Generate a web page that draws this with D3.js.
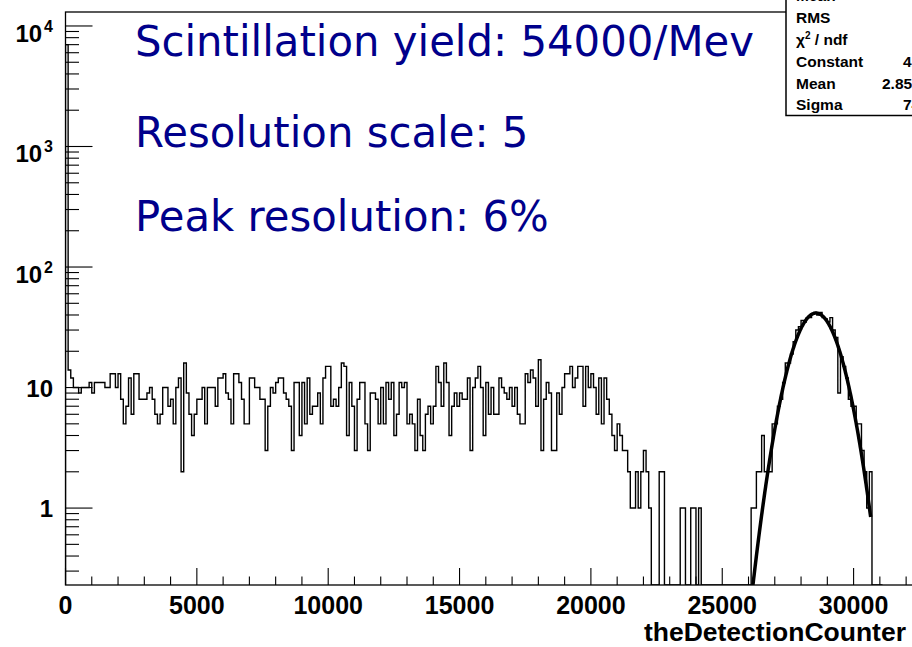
<!DOCTYPE html>
<html><head><meta charset="utf-8">
<script src="https://cdn.jsdelivr.net/npm/d3@7"></script>
<style>
html,body{margin:0;padding:0;background:#fff;}
svg{display:block;}
</style></head>
<body>
<script>
// ---------------- data ----------------
const binWidth = 100; // counts per bin of theDetectionCounter, starting at 0
const counts = [
 7000,
 14,12,10,10,9,10,10,10,11,9,
 11,11,11,11,10,10,13,13,10,13,
 8,5,7,12,6,13,13,8,8,8,
 9,10,8,6,5,6,10,10,7,8,
 5,10,12,2,16,9,6,4,6,8,
 8,10,5,10,10,10,7,12,12,13,
 9,8,5,13,13,11,8,5,5,12,
 12,10,10,8,8,3,7,10,9,11,
 12,12,9,8,7,3,11,11,4,11,
 5,12,6,7,7,9,5,12,15,15,
 7,8,7,10,16,15,4,11,7,3,
 8,11,11,5,3,9,9,8,5,10,
 5,11,8,11,4,6,11,10,11,5,
 6,5,3,8,4,3,6,7,5,7,
 15,11,7,16,11,4,7,9,7,9,
 8,8,12,3,10,12,15,10,4,11,
 6,10,6,6,12,10,9,8,10,7,
 10,6,5,5,13,11,14,12,7,17,
 3,8,11,9,3,3,9,6,10,13,
 13,15,10,12,15,15,7,15,10,13,
 10,6,12,5,12,8,6,4,3,5,
 4,3,3,2,1,1,2,1,2,3,
 2,1,0,0,0,2,2,0,0,0,
 0,0,0,1,1,0,0,1,1,0,
 1,0,0,0,0,0,0,0,0,0,
 0,0,0,0,0,0,0,0,0,0,
 1,1,2,2,4,2,2,2,5,5,
 7,8,11,16,16,19,24,30,32,36,
 35,38,38,41,42,40,42,38,37,35,
 38,30,26,9,18,15,12,8,7,7,
 5,5,3,2,1,2,0,0,0,0
];
// gaussian fit parameters (stats box)
const fitConstant = 41.5;
const fitMean = 28570;
const fitSigma = 745;
const fitRange = [25800, 30650];

const xTickMajor = [0,5000,10000,15000,20000,25000,30000];
const xTickLabels = ["0","5000","10000","15000","20000","25000","30000"];
const yTickMajor = [1,10,100,1000,10000];
const yTickLabels = [["1",""],["10",""],["10","2"],["10","3"],["10","4"]];

const textLines = ["Scintillation yield: 54000/Mev","Resolution scale: 5","Peak resolution: 6%"];
const statNames = ["Mean","RMS","χ2 / ndf","Constant","Mean","Sigma"];
const statValues = ["","","","41.54 ± 0.93","2.857e+04 ± 1.1e+01","745.3 ± 8.2"];

// ---------------- layout ----------------
const W = 912, H = 647;
const L = 65.5, R = 965.5, T = 12, B = 585;
const x = d3.scaleLinear().domain([0, 34260]).range([L, R]);
const y = d3.scaleLog().domain([0.23, 13060]).range([B, T]);

const svg = d3.select("body").append("svg").attr("width", W).attr("height", H);
svg.append("defs").append("clipPath").attr("id","frameclip")
  .append("rect").attr("x",L).attr("y",T).attr("width",R-L).attr("height",B-T);

const g = svg.append("g");

// histogram step path
const yc = c => c > 0 ? y(c) : B;
let pts = [[x(0), B]];
counts.forEach((c,i) => {
  pts.push([x(i*binWidth), yc(c)]);
  pts.push([x((i+1)*binWidth), yc(c)]);
});
pts.push([x(counts.length*binWidth), B]);
g.append("path").attr("clip-path","url(#frameclip)")
  .attr("d", d3.line()(pts))
  .attr("fill","none").attr("stroke","#000").attr("stroke-width",1.4);

// fit curve
const fitPts = d3.range(fitRange[0], fitRange[1]+1, 10).map(v =>
  [x(v), y(Math.max(1e-3, fitConstant*Math.exp(-0.5*Math.pow((v-fitMean)/fitSigma,2))))]);
g.append("path").attr("clip-path","url(#frameclip)")
  .attr("d", d3.line()(fitPts))
  .attr("fill","none").attr("stroke","#000").attr("stroke-width",3.5);

// frame
g.append("rect").attr("x",L).attr("y",T).attr("width",R-L).attr("height",B-T)
  .attr("fill","none").attr("stroke","#000").attr("stroke-width",1.3);

// x ticks
const xMinor = d3.range(0, 34001, 1000);
xMinor.forEach(v => {
  const major = v % 5000 === 0;
  g.append("line").attr("x1",x(v)).attr("x2",x(v)).attr("y1",B).attr("y2",B-(major?17:8.5))
    .attr("stroke","#000").attr("stroke-width",1.1);
});
xTickMajor.forEach((v,i) => {
  g.append("text").attr("x",x(v)).attr("y",614).attr("text-anchor","middle")
    .attr("font-family","Liberation Sans, Arial, sans-serif").attr("font-weight","bold")
    .attr("font-size",25).text(xTickLabels[i]);
});
g.append("text").attr("x",906).attr("y",641).attr("text-anchor","end")
  .attr("font-family","Liberation Sans, Arial, sans-serif").attr("font-weight","bold")
  .attr("font-size",26.5).text("theDetectionCounter");

// y ticks
const yDom = y.domain();
for (let e = -1; e <= 4; e++) {
  for (let m = 1; m <= 9; m++) {
    const v = m*Math.pow(10,e);
    if (v < yDom[0] || v > yDom[1]) continue;
    g.append("line").attr("x1",L).attr("x2",L+(m===1?27:13.5)).attr("y1",y(v)).attr("y2",y(v))
      .attr("stroke","#000").attr("stroke-width",1.1);
  }
}
yTickMajor.forEach((v,i) => {
  const [base, sup] = yTickLabels[i];
  const t = g.append("text").attr("text-anchor","end")
    .attr("font-family","Liberation Sans, Arial, sans-serif").attr("font-weight","bold");
  if (!sup) {
    t.attr("x",53).attr("y",y(v)+9).attr("font-size",24).text(base);
  } else {
    t.attr("x",53).attr("y",y(v)+16).attr("font-size",24);
    t.append("tspan").text(base);
    t.append("tspan").attr("font-size",16).attr("dy",-10).attr("dx",2).text(sup);
  }
});

// big text
const baselines = [56, 147, 231];
textLines.forEach((s,i) => {
  svg.append("text").attr("x",135).attr("y",baselines[i])
    .attr("font-family","DejaVu Sans, sans-serif").attr("font-size",41.8)
    .attr("fill","#00008b").text(s);
});

// stats box
const sb = svg.append("g");
sb.append("rect").attr("x",786).attr("y",-20).attr("width",200).attr("height",135.5)
  .attr("fill","#fff").attr("stroke","#000").attr("stroke-width",1.5);
const statY = [1, 23, 45, 67, 89, 110];
statNames.forEach((s,i) => {
  const t = sb.append("text").attr("x",796).attr("y",statY[i])
    .attr("font-family","Liberation Sans, Arial, sans-serif").attr("font-weight","bold")
    .attr("font-size",15.5);
  if (s.startsWith("χ2")) {
    t.append("tspan").text("χ");
    t.append("tspan").attr("font-size",10).attr("dy",-6).text("2");
    t.append("tspan").attr("dy",6).text(" / ndf");
  } else t.text(s);
});
const valX = [903, 903, 903, 903, 882, 903];
statValues.forEach((s,i) => {
  if (!s) return;
  sb.append("text").attr("x",valX[i]).attr("y",statY[i])
    .attr("font-family","Liberation Sans, Arial, sans-serif").attr("font-weight","bold")
    .attr("font-size",15.5).text(s);
});
</script>
</body></html>
